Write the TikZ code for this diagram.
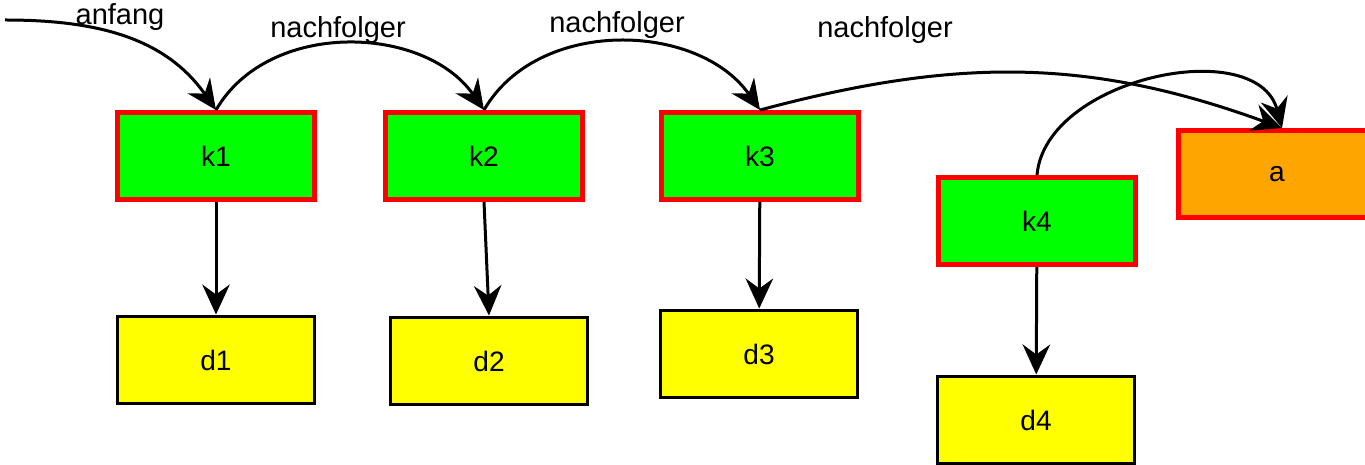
\documentclass[tikz,border=0pt]{standalone}
\usepackage{fontspec}
\setmainfont{Liberation Sans}
\usetikzlibrary{arrows.meta}
\definecolor{kgreen}{RGB}{0,255,0}
\definecolor{korange}{RGB}{255,165,0}
\definecolor{dyellow}{RGB}{255,255,0}
\begin{document}
\begin{tikzpicture}[x=0.02cm,y=-0.02cm,
  knoten/.style={shape=rectangle,draw=red,line width=0.1cm,fill=kgreen,minimum width=3.94cm,minimum height=1.74cm,font=\fontsize{16}{19}\selectfont},
  daten/.style={shape=rectangle,draw=black,line width=0.06cm,fill=dyellow,minimum width=3.94cm,minimum height=1.76cm,font=\fontsize{16}{19}\selectfont},
  zeiger/.style={line width=0.06cm,-{Stealth[length=0.6cm,width=0.55cm,inset=0.2cm]}},
  beschr/.style={font=\fontsize{16.5}{19}\selectfont}]
\useasboundingbox (0,0) rectangle (1365,465);
\coordinate(start) at (5,20);
\node(k1) at (216,156)[knoten]        {k1};
\node(k2) at (484,156)[knoten]        {k2};
\node(k3) at (760,156)[knoten]        {k3};
\node(k4) at (1037,221)[knoten]       {k4};
\node(a) at (1277,174)[knoten,fill=korange] {a};
\node(d1) at (216,360)[daten]         {d1};
\node(d2) at (489,361)[daten]         {d2};
\node(d3) at (759,354)[daten]         {d3};
\node(d4) at (1036,420)[daten]        {d4};
\node(l0) at (120,17)[beschr]         {anfang};
\node(l1) at (338,30)[beschr]         {nachfolger};
\node(l2) at (617,25)[beschr]         {nachfolger};
\node(l3) at (885,30)[beschr]         {nachfolger};
\path [zeiger]
  (start)    edge [out=0,in=125]    (k1.north)
  (k1.north) edge [out=60,in=125]   (k2.north)
  (k2.north) edge [out=60,in=125]   (k3.north)
  (k3.north) edge [out=15,in=160]   ([xshift=0.1cm]a.north)
  (k4.north) edge [out=85,in=105]   ([xshift=0.1cm]a.north)
  (k1)       edge                   (d1)
  (k2.south) edge                   (d2.north)
  (k3)       edge                   (d3)
  (k4)       edge                   (d4);

\end{tikzpicture}
\end{document}
